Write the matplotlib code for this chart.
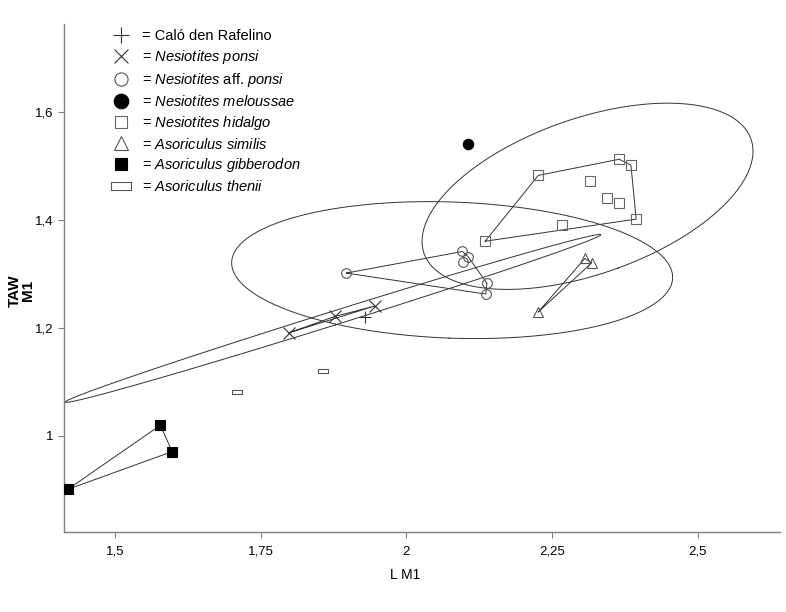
import numpy as np
import matplotlib
matplotlib.use("Agg")
import matplotlib.pyplot as plt
from matplotlib.lines import Line2D
from matplotlib.path import Path

plt.rcParams['font.family'] = ['Liberation Sans', 'DejaVu Sans']
plt.rcParams['mathtext.fontset'] = 'custom'
plt.rcParams['mathtext.rm'] = 'Liberation Sans'
plt.rcParams['mathtext.it'] = 'Liberation Sans:italic'
plt.rcParams['mathtext.bf'] = 'Liberation Sans:bold'

# ---------------- data (L M1, TAW M1) ----------------
calo_x = [1.929]
calo_y = [1.221]

ponsi_x = [1.799, 1.877, 1.946]
ponsi_y = [1.1915, 1.2215, 1.241]

affponsi_x = [1.897, 2.096, 2.106, 2.097, 2.138, 2.136]
affponsi_y = [1.302, 1.342, 1.332, 1.323, 1.283, 1.263]

meloussae_x = [2.106]
meloussae_y = [1.541]

hidalgo_x = [2.226, 2.365, 2.385, 2.315, 2.344, 2.365, 2.394, 2.266, 2.135]
hidalgo_y = [1.483, 1.513, 1.502, 1.473, 1.442, 1.431, 1.402, 1.392, 1.361]

similis_x = [2.306, 2.318, 2.226]
similis_y = [1.329, 1.321, 1.230]

gibberodon_x = [1.578, 1.598, 1.419]
gibberodon_y = [1.020, 0.971, 0.901]

thenii_x = [1.709, 1.857]
thenii_y = [1.081, 1.121]

x_ticks = [1.5, 1.75, 2.0, 2.25, 2.5]
x_ticklabels = ["1,5", "1,75", "2", "2,25", "2,5"]
y_ticks = [1.0, 1.2, 1.4, 1.6]
y_ticklabels = ["1", "1,2", "1,4", "1,6"]

legend_labels = [
    "= Caló den Rafelino",
    r"= $\mathit{Nesiotites\ ponsi}$",
    r"= $\mathit{Nesiotites}$ aff. $\mathit{ponsi}$",
    r"= $\mathit{Nesiotites\ meloussae}$",
    r"= $\mathit{Nesiotites\ hidalgo}$",
    r"= $\mathit{Asoriculus\ similis}$",
    r"= $\mathit{Asoriculus\ gibberodon}$",
    r"= $\mathit{Asoriculus\ thenii}$",
]

# ---------------- helpers ----------------
def convex_hull(xs, ys):
    pts = sorted(set(zip(xs, ys)))
    if len(pts) < 3:
        return None
    def cross(o, a, b):
        return (a[0]-o[0])*(b[1]-o[1]) - (a[1]-o[1])*(b[0]-o[0])
    lower, upper = [], []
    for p in pts:
        while len(lower) >= 2 and cross(lower[-2], lower[-1], p) <= 0:
            lower.pop()
        lower.append(p)
    for p in reversed(pts):
        while len(upper) >= 2 and cross(upper[-2], upper[-1], p) <= 0:
            upper.pop()
        upper.append(p)
    hull = lower[:-1] + upper[:-1]
    hull.append(hull[0])
    return np.array(hull)

def k2_95(n, alpha=0.05):
    m = n - 2
    F = (m / 2.0) * (alpha ** (-2.0 / m) - 1.0)
    return 2.0 * (n - 1) / m * F

def ellipse_pts(xs, ys, k2):
    xs = np.asarray(xs); ys = np.asarray(ys)
    cov = np.cov(xs, ys)
    vals, vecs = np.linalg.eigh(cov)
    t = np.linspace(0, 2*np.pi, 400)
    circ = np.vstack([np.cos(t), np.sin(t)])
    pts = vecs @ (np.sqrt(k2 * np.clip(vals, 0, None))[:, None] * circ)
    return xs.mean() + pts[0], ys.mean() + pts[1]

# ---------------- figure ----------------
W, H = 786, 612
fig = plt.figure(figsize=(W/100, H/100), dpi=100)
L, R, T, B = 63.5, 780, 24, 532
ax = fig.add_axes([L/W, (H-B)/H, (R-L)/W, (B-T)/H])
ax.set_xlim(1.4117, 2.6407)
ax.set_ylim(0.822, 1.7637)

line_c = '#333333'
edge_c = '#555555'

# ellipses
ell_groups = [(hidalgo_x, hidalgo_y, k2_95(len(hidalgo_x))),
              (affponsi_x, affponsi_y, k2_95(len(affponsi_x))),
              (ponsi_x, ponsi_y, 39.0)]
for gx, gy, k2 in ell_groups:
    ex, ey = ellipse_pts(gx, gy, k2)
    ax.plot(ex, ey, color=line_c, lw=0.7, zorder=2)

# convex hulls
for gx, gy in [(ponsi_x, ponsi_y), (affponsi_x, affponsi_y), (hidalgo_x, hidalgo_y),
               (similis_x, similis_y), (gibberodon_x, gibberodon_y)]:
    h = convex_hull(gx, gy)
    if h is not None:
        ax.plot(h[:, 0], h[:, 1], color=line_c, lw=0.7, zorder=2)

rect_marker = Path([(-1, -0.45), (1, -0.45), (1, 0.45), (-1, 0.45), (-1, -0.45)],
                   [Path.MOVETO, Path.LINETO, Path.LINETO, Path.LINETO, Path.CLOSEPOLY])

styles = [
    dict(marker='+', ms=9, mew=0.8, color=line_c, mfc='none'),
    dict(marker='x', ms=8, mew=0.8, color=line_c, mfc='none'),
    dict(marker='o', ms=7, mew=0.8, mec=edge_c, mfc='none'),
    dict(marker='o', ms=7.5, mew=0.8, mec='black', mfc='black'),
    dict(marker='s', ms=7, mew=0.8, mec='#666666', mfc='none'),
    dict(marker='^', ms=7.5, mew=0.8, mec=edge_c, mfc='none'),
    dict(marker='s', ms=7, mew=0.8, mec='black', mfc='black'),
    dict(marker=rect_marker, ms=7, mew=0.8, mec=edge_c, mfc='none'),
]
groups = [(calo_x, calo_y), (ponsi_x, ponsi_y), (affponsi_x, affponsi_y),
          (meloussae_x, meloussae_y), (hidalgo_x, hidalgo_y), (similis_x, similis_y),
          (gibberodon_x, gibberodon_y), (thenii_x, thenii_y)]
for (gx, gy), st in zip(groups, styles):
    ax.plot(gx, gy, linestyle='none', zorder=3, **st)

# legend
leg_ms = [11, 9.5, 9.5, 10.5, 9, 10, 9, 14]
handles = []
for st, ms in zip(styles, leg_ms):
    s = dict(st); s['ms'] = ms
    handles.append(Line2D([], [], linestyle='none', **s))
leg = ax.legend(handles, legend_labels, loc='upper left',
                bbox_to_anchor=(109.6/W, (H-29.5)/H), bbox_transform=fig.transFigure,
                frameon=False, fontsize=10.5, borderpad=0, borderaxespad=0,
                handlelength=1.5, handletextpad=0.7, labelspacing=0.33)

# axes styling
for s in ['top', 'right']:
    ax.spines[s].set_visible(False)
for s in ['left', 'bottom']:
    ax.spines[s].set_color('#808080')
    ax.spines[s].set_linewidth(1.0)
ax.set_xticks(x_ticks)
ax.set_xticklabels(x_ticklabels)
ax.set_yticks(y_ticks)
ax.set_yticklabels(y_ticklabels)
ax.tick_params(direction='out', length=4, width=0.8, color='#808080', labelsize=9.5)
ax.tick_params(axis='x', pad=6)
ax.tick_params(axis='y', pad=3)

ax.set_xlabel("L M1", fontsize=10)
ax.xaxis.set_label_coords((405-L)/(R-L), -(568-B)/(B-T))
ax.set_ylabel("TAW\nM1", fontsize=11, fontweight='bold', linespacing=0.95)
ax.yaxis.set_label_coords((35-L)/(R-L), 0.475)

fig.savefig("out.png", dpi=100, facecolor='white')
